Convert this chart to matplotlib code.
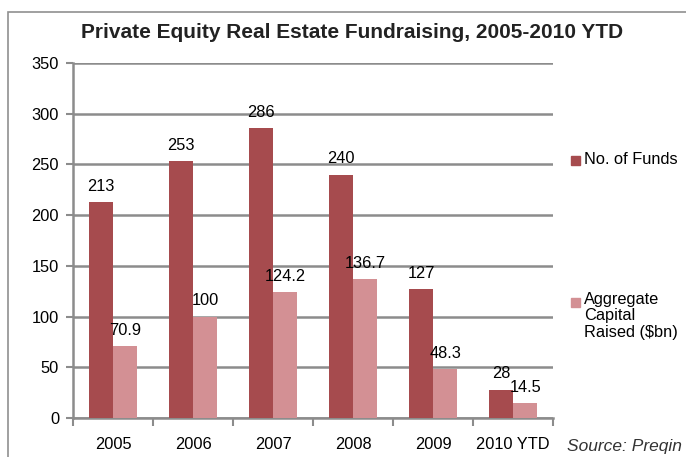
import matplotlib.pyplot as plt
import matplotlib.patches as mpatches
import numpy as np

plt.rcParams['font.family'] = ['Liberation Sans', 'DejaVu Sans']

years = ['2005', '2006', '2007', '2008', '2009', '2010 YTD']
funds = [213, 253, 286, 240, 127, 28]
capital = [70.9, 100, 124.2, 136.7, 48.3, 14.5]
capital_labels = ['70.9', '100', '124.2', '136.7', '48.3', '14.5']

dark = '#a64b4e'
light = '#d39094'
grid = '#8c8c8c'
fs = 11.8

fig = plt.figure(figsize=(6.86, 4.57), dpi=100)
ax = fig.add_axes([0.1064, 0.0853, 0.70, 0.777])

# frame round the chart (cut at right and bottom)
fig.add_artist(mpatches.Rectangle((8 / 686, -0.05), 1.0, 1 - 12 / 457 + 0.05,
                                  transform=fig.transFigure, fill=False,
                                  edgecolor='#909090', lw=1.2))

x = np.arange(len(years))
w = 0.3
ax.bar(x - w / 2, funds, w, color=dark, zorder=3)
ax.bar(x + w / 2, capital, w, color=light, zorder=3)

for i in range(len(years)):
    ax.text(x[i] - w / 2, funds[i] + 8, str(funds[i]), ha='center', va='bottom', fontsize=fs)
    ax.text(x[i] + w / 2, capital[i] + 8, capital_labels[i], ha='center', va='bottom', fontsize=fs)

ax.set_xlim(-0.5, len(years) - 0.5)
ax.set_ylim(0, 350)
ax.set_yticks(np.arange(0, 351, 50))
ax.yaxis.grid(True, color=grid, lw=1.8, zorder=0)
ax.set_axisbelow(True)

ax.set_xticks(np.arange(-0.5, len(years), 1))
ax.set_xticklabels([])
ax.set_xticks(x, minor=True)
ax.set_xticklabels(years, minor=True)
ax.tick_params(axis='x', which='minor', length=0, pad=14, labelsize=fs)
ax.tick_params(axis='x', which='major', length=6, width=1.5, color=grid)
ax.tick_params(axis='y', length=5, width=1.5, color=grid, labelsize=fs, pad=5)

for s in ['top', 'right']:
    ax.spines[s].set_visible(False)
ax.spines['left'].set_color(grid)
ax.spines['left'].set_linewidth(1.8)
ax.spines['bottom'].set_color(grid)
ax.spines['bottom'].set_linewidth(1.8)

fig.text(0.513, 1 - 32 / 457, 'Private Equity Real Estate Fundraising, 2005-2010 YTD',
         ha='center', va='center', fontsize=15, fontweight='bold', color='#222222')

# legend
fig.add_artist(mpatches.Rectangle((571 / 686, 1 - 165 / 457), 9 / 686, 9 / 457,
                                  transform=fig.transFigure, color=dark))
fig.text(584 / 686, 1 - 160 / 457, 'No. of Funds', va='center', fontsize=fs)
fig.add_artist(mpatches.Rectangle((571 / 686, 1 - 307 / 457), 9 / 686, 9 / 457,
                                  transform=fig.transFigure, color=light))
fig.text(584 / 686, 1 - 292 / 457, 'Aggregate\nCapital\nRaised ($bn)', va='top',
         fontsize=fs, linespacing=1.12)

fig.text(567 / 686, 1 - 447 / 457, 'Source: Preqin', va='center', fontsize=12.5,
         style='italic', color='#333333')

fig.savefig('out.png', dpi=100)
